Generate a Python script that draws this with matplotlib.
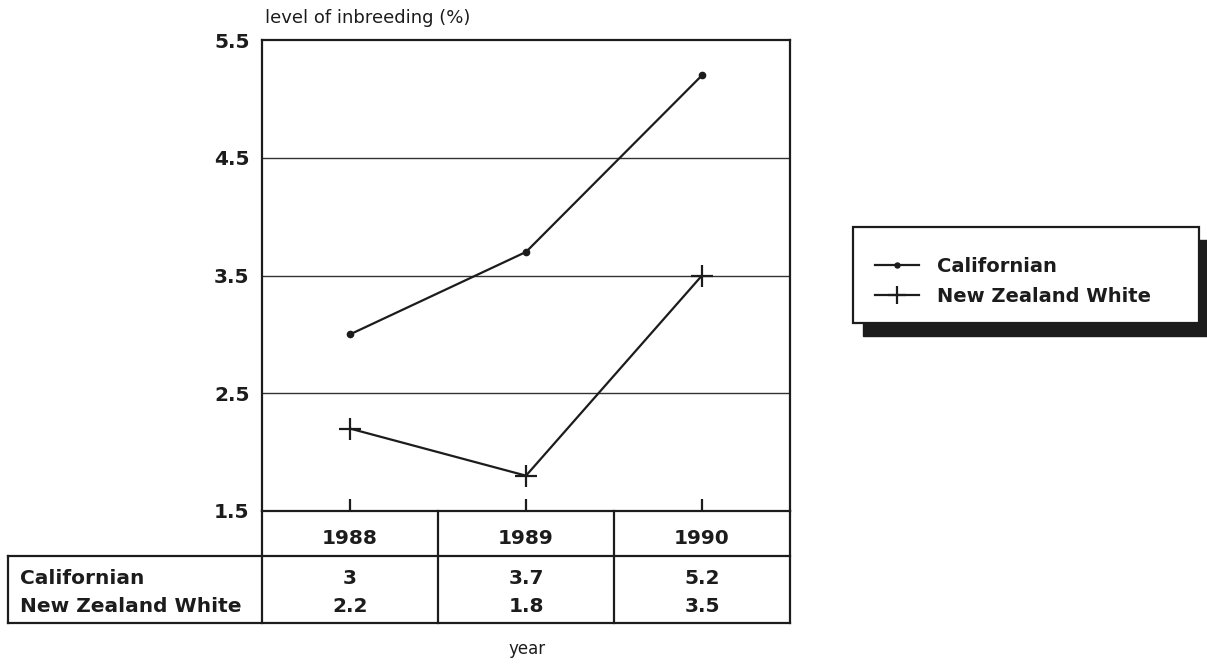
import numpy as np
import matplotlib
matplotlib.use('Agg')
import matplotlib.pyplot as plt
from matplotlib.lines import Line2D
from matplotlib.patches import Rectangle
from matplotlib.transforms import blended_transform_factory

# Data
YEARS = ['1988', '1989', '1990']
SERIES = ['Californian', 'New Zealand White']
CALIFORNIAN = [3.0, 3.7, 5.2]
NEW_ZEALAND_WHITE = [2.2, 1.8, 3.5]
CALIFORNIAN_LABELS = ['3', '3.7', '5.2']
NZW_LABELS = ['2.2', '1.8', '3.5']
Y_TICKS = [1.5, 2.5, 3.5, 4.5, 5.5]

W, H = 1207, 664
INK = '#1c1c1c'
BOLD = dict(family='DejaVu Sans', weight='bold', size=14.5, color=INK)


def fx(px):
    return px / W


def fy(py):
    # pixel rows are counted from the top of the picture
    return 1 - py / H


fig = plt.figure(figsize=(W / 100, H / 100), dpi=100)
fig.patch.set_facecolor('white')

left, right, top, bottom = 262, 790, 40, 511
ax = fig.add_axes([fx(left), fy(bottom), fx(right - left), (bottom - top) / H])

x = np.arange(len(YEARS))
ax.plot(x, CALIFORNIAN, color=INK, lw=1.6, marker='o', ms=4.5, label=SERIES[0])
ax.plot(x, NEW_ZEALAND_WHITE, color=INK, lw=1.6, marker='+', ms=16, mew=1.6,
        label=SERIES[1])

ax.set_xlim(-0.5, len(YEARS) - 0.5)
ax.set_ylim(1.5, 5.5)
ax.set_yticks(Y_TICKS)
ax.set_yticklabels([f'{v:.1f}' for v in Y_TICKS], fontdict=BOLD)
ax.tick_params(axis='y', length=0, pad=9)
ax.set_xticks(x)
ax.set_xticklabels([])
ax.tick_params(axis='x', direction='in', length=9, width=1.6, color=INK)
for v in Y_TICKS[1:-1]:
    ax.axhline(v, color='#333333', lw=1.0, zorder=0)
for s in ax.spines.values():
    s.set_linewidth(1.6)
    s.set_color(INK)

fig.text(fx(265), fy(18), 'level of inbreeding (%)', ha='left', va='center',
         family='DejaVu Sans', size=13, color=INK)

# table under the plot: x follows the data, y in figure pixels
tr = blended_transform_factory(ax.transData, fig.transFigure)
row_top, row_mid, row_bot = 511, 556, 623
lab_left = 8

def hline(y, x0, x1):
    fig.add_artist(Line2D([fx(x0), fx(x1)], [fy(y), fy(y)], color=INK, lw=1.6,
                          transform=fig.transFigure))

def vline(xpx, y0, y1):
    fig.add_artist(Line2D([fx(xpx), fx(xpx)], [fy(y0), fy(y1)], color=INK, lw=1.6,
                          transform=fig.transFigure))

hline(row_mid, lab_left, right)
hline(row_bot, lab_left, right)
vline(lab_left, row_mid, row_bot)
vline(left, row_top, row_bot)
vline(right, row_top, row_bot)
for b in x[:-1] + 0.5:
    fig.add_artist(Line2D([b, b], [fy(row_top), fy(row_bot)], color=INK, lw=1.6,
                          transform=tr))

for i, yr in enumerate(YEARS):
    ax.text(i, fy(538), yr, transform=tr, ha='center', va='center', **BOLD)
    ax.text(i, fy(579), CALIFORNIAN_LABELS[i], transform=tr, ha='center',
            va='center', **BOLD)
    ax.text(i, fy(606), NZW_LABELS[i], transform=tr, ha='center', va='center',
            **BOLD)
fig.text(fx(20), fy(579), SERIES[0], ha='left', va='center', **BOLD)
fig.text(fx(20), fy(606), SERIES[1], ha='left', va='center', **BOLD)
fig.text(fx(527), fy(649), 'year', ha='center', va='center',
         family='DejaVu Sans', size=12, color=INK)

# legend with a heavy drop shadow, as in the original
lx0, ly0, lx1, ly1 = 853, 227, 1199, 323
fig.add_artist(Rectangle((fx(lx0 + 10), fy(ly1 + 13)), fx(lx1 - lx0), (ly1 - ly0) / H,
                         transform=fig.transFigure, facecolor=INK, edgecolor=INK))
fig.add_artist(Rectangle((fx(lx0), fy(ly1)), fx(lx1 - lx0), (ly1 - ly0) / H,
                         transform=fig.transFigure, facecolor='white',
                         edgecolor=INK, lw=1.6))
handles, labels = ax.get_legend_handles_labels()
leg = fig.legend(handles, labels, loc='upper left',
                 bbox_to_anchor=(fx(lx0 + 4), fy(ly0 + 12)), frameon=False,
                 prop=dict(family='DejaVu Sans', weight='bold', size=14),
                 handlelength=2.3, labelspacing=0.6, handletextpad=0.9,
                 markerscale=0.8)
for t in leg.get_texts():
    t.set_color(INK)

fig.savefig('out.png', dpi=100, facecolor='white')
